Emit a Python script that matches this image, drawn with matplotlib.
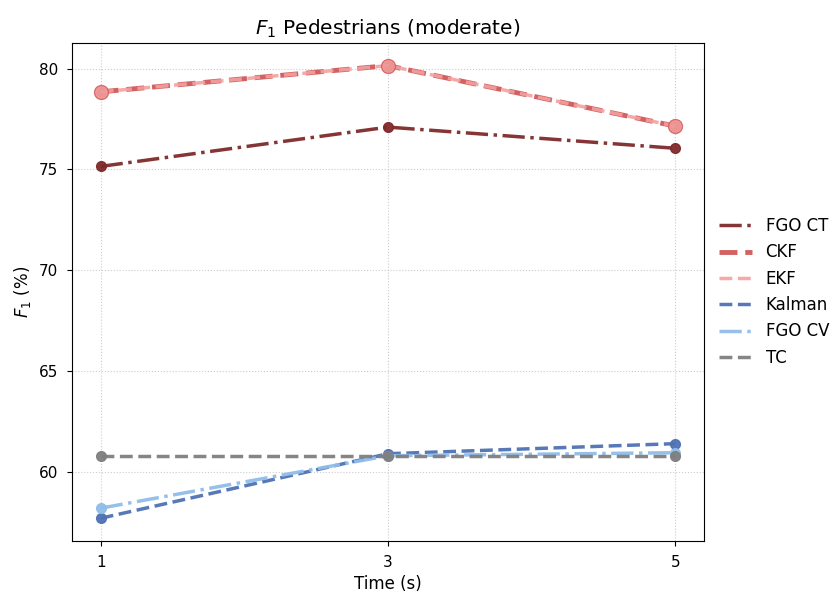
import matplotlib
matplotlib.use("Agg")
import matplotlib.pyplot as plt
from matplotlib.lines import Line2D

times = [1, 3, 5]
fgo_ct = [75.15, 77.1, 76.05]
ckf = [78.85, 80.15, 77.15]
ekf = [78.85, 80.15, 77.15]
kalman = [57.7, 60.9, 61.4]
fgo_cv = [58.2, 60.8, 60.95]
tc = [60.8, 60.8, 60.8]

fig, ax = plt.subplots(figsize=(8.37, 5.97), dpi=100)
fig.subplots_adjust(left=0.086, right=0.841, top=0.928, bottom=0.094)

ax.plot(times, fgo_ct, color="#7f2a2a", ls="-.", lw=2.5, marker="o", ms=7,
        alpha=0.95, label="FGO CT")
ax.plot(times, ckf, color="#d05a5a", ls="--", lw=3.5, marker="o", ms=7,
        alpha=0.95, label="CKF")
ax.plot(times, ekf, color="#f4a0a0", ls="--", lw=2.5, marker="o", ms=10,
        mfc="#f09a9a", mec="#d86060", alpha=0.9, label="EKF")
ax.plot(times, kalman, color="#4f72b3", ls="--", lw=2.5, marker="o", ms=7,
        alpha=0.95, label="Kalman")
ax.plot(times, fgo_cv, color="#90bde9", ls="-.", lw=2.5, marker="o", ms=7,
        alpha=0.95, label="FGO CV")
ax.plot(times, tc, color="#7f7f7f", ls="--", lw=2.5, marker="o", ms=7,
        alpha=0.95, label="TC")

ax.set_xticks(times)
ax.set_title("$F_1$ Pedestrians (moderate)", fontsize=14.5)
ax.set_xlabel("Time (s)", fontsize=12)
ax.set_ylabel("$F_1$ (%)", fontsize=12)
ax.tick_params(labelsize=11, pad=6.5)
ax.grid(True, ls=":", color="#cccccc")

# legend with lines only, no markers
handles, labels = ax.get_legend_handles_labels()
hs = [Line2D([], [], color=h.get_color(), ls=h.get_linestyle(), lw=h.get_linewidth(),
             alpha=h.get_alpha()) for h in handles]
ax.legend(hs, labels, loc="center left", bbox_to_anchor=(1.0, 0.5), frameon=False,
          fontsize=12)

plt.savefig("out.png", dpi=100)
